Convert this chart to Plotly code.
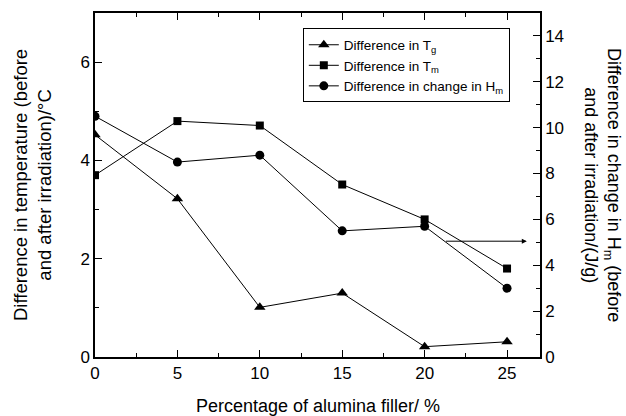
import plotly.graph_objects as go

filler = [0, 5, 10, 15, 20, 25]
diff_tg = [4.52, 3.22, 1.01, 1.30, 0.21, 0.31]
diff_tm = [3.70, 4.80, 4.71, 3.51, 2.80, 1.80]
diff_hm = [10.5, 8.5, 8.8, 5.5, 5.7, 3.0]

names = ["Difference in T<sub>g</sub>", "Difference in T<sub>m</sub>",
         "Difference in change in H<sub>m</sub>"]

FONT = "Liberation Sans, Arial, Helvetica, sans-serif"

fig = go.Figure()
fig.add_trace(go.Scatter(x=filler, y=diff_tg, name=names[0], mode="lines+markers",
                         line=dict(color="black", width=1),
                         marker=dict(symbol="triangle-up", size=10, color="black")))
fig.add_trace(go.Scatter(x=filler, y=diff_tm, name=names[1], mode="lines+markers",
                         line=dict(color="black", width=1),
                         marker=dict(symbol="square", size=8, color="black")))
fig.add_trace(go.Scatter(x=filler, y=diff_hm, name=names[2], mode="lines+markers",
                         yaxis="y2",
                         line=dict(color="black", width=1),
                         marker=dict(symbol="circle", size=9, color="black")))

axis_common = dict(showline=True, linecolor="black", linewidth=1.5, showgrid=False,
                   zeroline=False, ticks="inside", ticklen=7, tickwidth=1, tickcolor="black",
                   tickfont=dict(family=FONT, size=17, color="black"))

fig.update_layout(
    width=626, height=416,
    margin=dict(l=95, r=86, t=13, b=59),
    plot_bgcolor="white", paper_bgcolor="white",
    font=dict(family=FONT, color="black"),
    xaxis=dict(range=[0, 27], dtick=5, tick0=0, mirror="ticks",
               minor=dict(dtick=2.5, ticks="inside", ticklen=4, tickcolor="black"),
               **axis_common),
    yaxis=dict(range=[0, 7], dtick=2, tick0=0,
               minor=dict(dtick=1, ticks="inside", ticklen=4, tickcolor="black"),
               **axis_common),
    yaxis2=dict(range=[0, 15], dtick=2, tick0=0, overlaying="y", side="right",
                minor=dict(dtick=1, ticks="inside", ticklen=4, tickcolor="black"),
                **axis_common),
    showlegend=True,
    legend=dict(x=0.467, y=0.955, xanchor="left", yanchor="top",
                bordercolor="black", borderwidth=1, bgcolor="white",
                font=dict(family=FONT, size=13.5, color="black"),
                tracegroupgap=0),
)

fig.add_annotation(x=26.2, y=5.05, xref="x", yref="y2",
                   ax=21.2, ay=5.05, axref="x", ayref="y2",
                   text="", showarrow=True, arrowhead=2, arrowsize=1,
                   arrowwidth=1, arrowcolor="black")

fig.add_annotation(text="Percentage of alumina filler/ %", xref="paper", yref="paper",
                   x=0.5, y=0, yshift=-49, showarrow=False,
                   xanchor="center", yanchor="middle",
                   font=dict(family=FONT, size=18, color="black"))
fig.add_annotation(text="Difference in temperature (before<br>and after irradiation)/°C",
                   xref="paper", yref="paper", x=0, y=0.5, xshift=-63,
                   showarrow=False, textangle=-90, xanchor="center", yanchor="middle",
                   font=dict(family=FONT, size=18.5, color="black"))
fig.add_annotation(text="Difference in change in H<sub>m</sub> (before<br>and after irradiation/(J/g)",
                   xref="paper", yref="paper", x=1, y=0.5, xshift=63,
                   showarrow=False, textangle=90, xanchor="center", yanchor="middle",
                   font=dict(family=FONT, size=18, color="black"))

fig.write_html("out.html", config={"displayModeBar": False},
               post_script="document.body.style.margin='0';document.body.style.overflow='hidden';")
